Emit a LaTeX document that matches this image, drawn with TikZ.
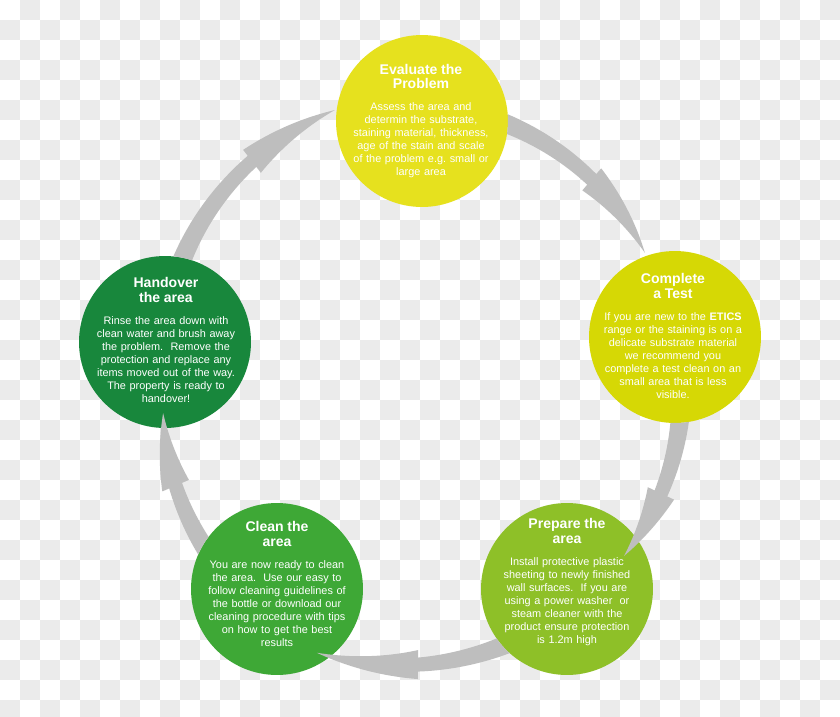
\documentclass[tikz,border=0pt]{standalone}
\usepackage{fontspec}
\setmainfont{Liberation Sans}
\usetikzlibrary{positioning}
\definecolor{evalyellow}{RGB}{230,225,30}
\definecolor{testyellow}{RGB}{214,216,5}
\definecolor{preparegreen}{RGB}{142,192,40}
\definecolor{cleangreen}{RGB}{62,168,54}
\definecolor{handovergreen}{RGB}{24,135,60}
\definecolor{arrowgray}{RGB}{190,190,190}
\definecolor{checkgray}{RGB}{235,235,235}

\newcommand{\steptitle}[1]{{\fontsize{8}{8.3}\selectfont\bfseries #1\par}\vspace{5pt}}
% swoosh arrow round the hub: origin node, start angle, start radius, head angle, tip angle, tip radius
\newcommand{\swoosh}[6]{%
  \begin{scope}[even odd rule]
    \clip (0,0) rectangle (840,717) (#1.center) circle[radius=86];
    \pgfmathsetmacro\swTa{#2}\pgfmathsetmacro\swRa{#3}%
    \pgfmathsetmacro\swTb{#4}\pgfmathsetmacro\swTc{#5}\pgfmathsetmacro\swRc{#6}%
    \fill[arrowgray, nonzero rule, declare function={
        rr(\t)=\swRa+(\swRc-\swRa)*(\t-\swTa)/(\swTc-\swTa);
        hw(\t)=10-3*(\t-\swTa)/(\swTb-\swTa);
        tw(\t)=14.5*(\swTc-\t)/(\swTc-\swTb);}]
      plot[domain=\swTa:\swTb, samples=20] ({421+(rr(\x)+hw(\x))*cos(\x)}, {380+(rr(\x)+hw(\x))*sin(\x)})
      -- plot[domain=\swTb:\swTc, samples=20] ({421+(rr(\x)+tw(\x))*cos(\x)}, {380+(rr(\x)+tw(\x))*sin(\x)})
      -- plot[domain=\swTc:\swTb, samples=20] ({421+(rr(\x)-tw(\x))*cos(\x)}, {380+(rr(\x)-tw(\x))*sin(\x)})
      -- plot[domain=\swTb:\swTa, samples=20] ({421+(rr(\x)-hw(\x))*cos(\x)}, {380+(rr(\x)-hw(\x))*sin(\x)})
      -- cycle;
  \end{scope}}

\begin{document}
\frenchspacing
\begin{tikzpicture}[x=0.02cm, y=-0.02cm,
    stepdisc/.style={circle, minimum size=3.44cm, inner sep=0pt},
    steptext/.style={text=white, align=center, text width=3cm, inner sep=0pt,
      font=\fontsize{6.2}{7.4}\selectfont}]
  \useasboundingbox (0,0) rectangle (840,717);
  \clip (0,0) rectangle (840,717);

  % checkered backdrop
  \fill[white] (0,0) rectangle (840,717);
  \foreach \i in {0,2,...,40} \foreach \j in {1,3,...,35}
    \fill[checkgray] (20*\i,20*\j) rectangle +(20,20);
  \foreach \i in {1,3,...,41} \foreach \j in {0,2,...,34}
    \fill[checkgray] (20*\i,20*\j) rectangle +(20,20);

  % Discs
  \node[stepdisc, fill=evalyellow] (evaluate) at (422,121) {};
  \node[stepdisc, fill=testyellow] (completetest) at (675,337) {};
  \node[stepdisc, fill=preparegreen] (prepare) at (567,589) {};
  \node[stepdisc, fill=cleangreen] (cleanarea) at (277,589) {};
  \node[stepdisc, fill=handovergreen] (handover) at (165,342) {};

  % Arrows
  \swoosh{evaluate}{-78}{272}{-49.6}{-29.6}{257.5}
  \swoosh{completetest}{3}{260.7}{25.3}{40.9}{268.7}
  \swoosh{prepare}{67}{276}{90.6}{110.9}{292}
  \swoosh{cleanarea}{137}{276}{156.7}{172.7}{260}
  \swoosh{handover}{201}{265.4}{232.3}{252.3}{283.4}

  % Texts
  \node[steptext] (evaluatetext) at (421,121) {\steptitle{Evaluate the\\Problem}
    Assess the area and\\determin the substrate,\\staining material, thickness,\\age of the stain and scale\\of the problem e.g. small or\\large area};
  \node[steptext] (completetesttext) at (673,336) {\steptitle{Complete\\a Test}
    If you are new to the \textbf{ETICS}\\range or the staining is on a\\delicate substrate material\\we recommend you\\complete a test clean on an\\small area that is less\\visible.};
  \node[steptext] (preparetext) at (567,582) {\steptitle{Prepare the\\area}
    Install protective plastic\\sheeting to newly finished\\wall surfaces.~ If you are\\using a power washer~ or\\steam cleaner with the\\product ensure protection\\is 1.2m high};
  \node[steptext] (cleanareatext) at (277,584) {\steptitle{Clean the\\area}
    You are now ready to clean\\the area.~ Use our easy to\\follow cleaning guidelines of\\the bottle or download our\\cleaning procedure with tips\\on how to get the best\\results};
  \node[steptext] (handovertext) at (166,340) {\steptitle{Handover\\the area}
    Rinse the area down with\\clean water and brush away\\the problem.~ Remove the\\protection and replace any\\items moved out of the way.\\The property is ready to\\handover!};
\end{tikzpicture}
\end{document}
